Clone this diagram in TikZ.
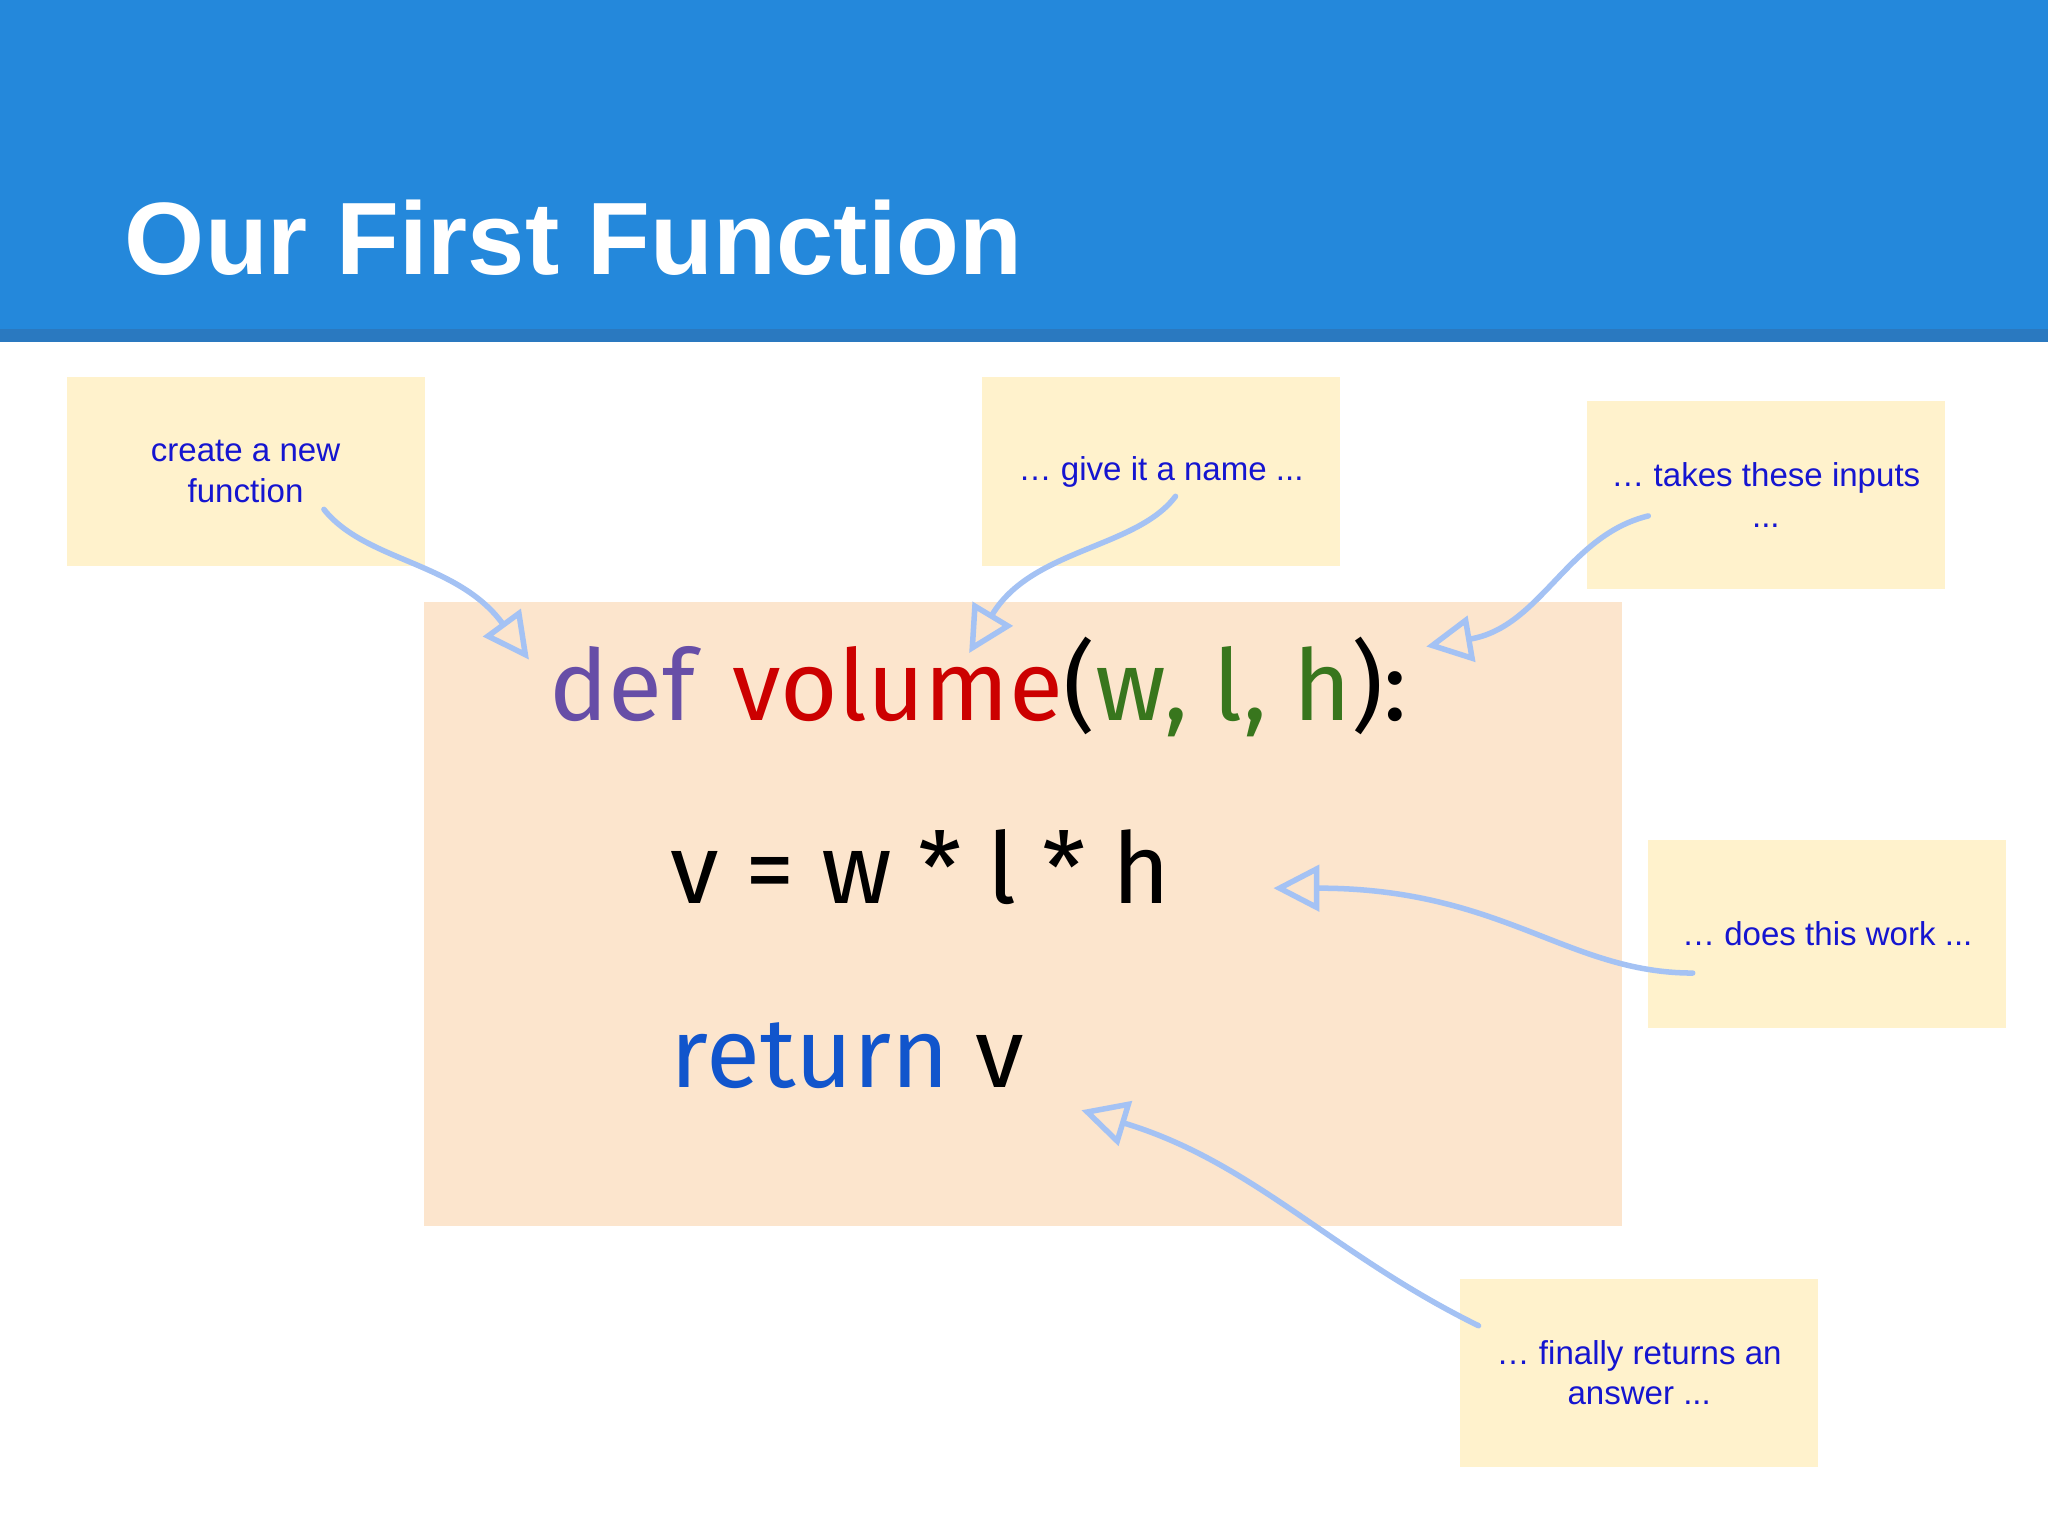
\documentclass[tikz,border=0pt]{standalone}
\usepackage{fontspec}
\setmainfont{Liberation Sans}
\newfontfamily\codefont{Fira Sans}
\usetikzlibrary{arrows.meta}
\definecolor{hdr}{HTML}{2488DB}
\definecolor{hdrline}{HTML}{2A79C0}
\definecolor{note}{HTML}{FFF2CC}
\definecolor{codebg}{HTML}{FCE5CD}
\definecolor{ntxt}{HTML}{1515D0}
\definecolor{arr}{HTML}{A4C2F4}
\definecolor{cpurple}{HTML}{674EA7}
\definecolor{cred}{HTML}{CC0000}
\definecolor{cgreen}{HTML}{38761D}
\definecolor{cblue}{HTML}{1155CC}
\tikzset{
 notebox/.style={fill=note,draw=none,minimum width=2.74cm,minimum height=1.44cm,align=center,text=ntxt,font=\fontsize{7.2pt}{8.9pt}\selectfont},
 pointer/.style={draw=arr,line width=1.2pt,line cap=round,-{Triangle[open,length=10pt,width=10pt,line width=1.2pt]}},
 code/.style={anchor=base west,inner sep=0pt,font=\codefont\fontsize{21.5pt}{26pt}\selectfont}
}
\begin{document}
\begin{tikzpicture}[x=0.01cm,y=-0.01cm]
\useasboundingbox (0,0) rectangle (1568,1176);
\fill[white] (0,0) rectangle (1568,1176);
\fill[hdr] (0,0) rectangle (1568,255);
\fill[hdrline] (0,252) rectangle (1568,262);
\node[anchor=base west,inner sep=0pt,text=white,font=\bfseries\fontsize{22.4pt}{27pt}\selectfont] (title) at (95,210) {Our First Function};
\fill[codebg] (325,461) rectangle (1242,939);
\node[code,text=cpurple] (def) at (420,552) {def};
\node[code,anchor=base west] (rest) at ([xshift=0.27cm]def.base east) {\textcolor{cred}{volume}(\textcolor{cgreen}{w, l, h}):};
\node[code] (line2) at (513,692) {v = w * l * h};
\node[code] (line3) at (513,833) {\textcolor{cblue}{return} v};
\node[notebox] (n1) at (188,361) {create a new\\function};
\node[notebox] (n2) at (889,361) {… give it a name ...};
\node[notebox] (n3) at (1352,379) {… takes these inputs\\...};
\node[notebox] (n4) at (1399,715) {… does this work ...};
\node[notebox] (n5) at (1255,1051) {… finally returns an\\answer ...};
\coordinate (s1) at (248,390); \coordinate (e1) at (405,505);
\coordinate (s2) at (900,380); \coordinate (e2) at (742,500);
\coordinate (s3) at (1262,395); \coordinate (e3) at (1092,495);
\coordinate (s4) at (1296,745); \coordinate (e4) at (975,680);
\coordinate (s5) at (1132,1015); \coordinate (e5) at (828,850);
\draw[pointer] (s1) .. controls (280,430) and (350,430) .. (e1);
\draw[pointer] (s2) .. controls (870,420) and (790,420) .. (e2);
\draw[pointer] (s3) .. controls (1200,410) and (1180,480) .. (e3);
\draw[pointer] (s4) .. controls (1200,745) and (1150,680) .. (e4);
\draw[pointer] (s5) .. controls (1020,960) and (960,890) .. (e5);
\end{tikzpicture}
\end{document}
